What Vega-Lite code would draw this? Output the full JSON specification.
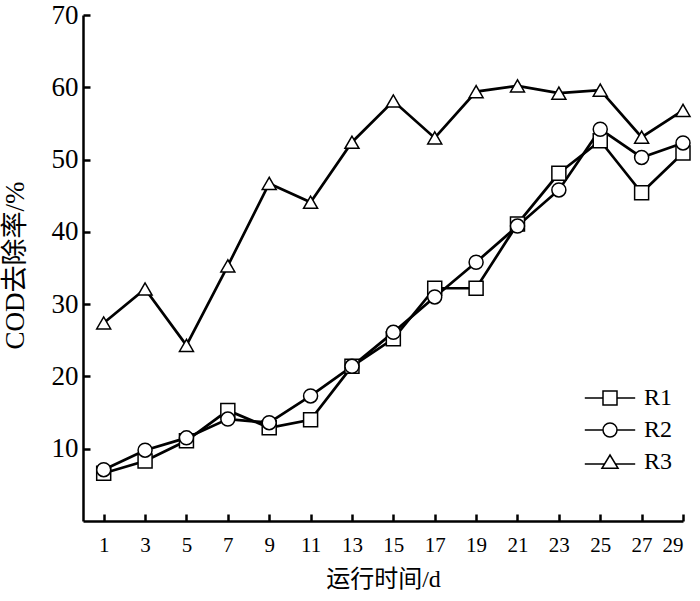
{
  "$schema": "https://vega.github.io/schema/vega-lite/v6.json",
  "width": 600,
  "height": 506,
  "autosize": "none",
  "padding": {"left": 83, "top": 15, "right": 17, "bottom": 80},
  "background": "white",
  "config": {
    "view": {"stroke": null},
    "font": "Liberation Serif",
    "axis": {
      "domainColor": "black", "domainWidth": 2.5, "tickColor": "black", "tickWidth": 2.5,
      "tickSize": -7, "grid": false, "labelColor": "black", "titleColor": "black",
      "labelFont": "Liberation Serif", "titleFont": "Liberation Serif, Noto Sans CJK SC", "titleFontWeight": "normal"
    }
  },
  "data": {"values": [
    {"day": 1, "series": "R1", "cod": 6.6}, {"day": 3, "series": "R1", "cod": 8.3}, {"day": 5, "series": "R1", "cod": 11.1},
    {"day": 7, "series": "R1", "cod": 15.3}, {"day": 9, "series": "R1", "cod": 12.9}, {"day": 11, "series": "R1", "cod": 14.0},
    {"day": 13, "series": "R1", "cod": 21.4}, {"day": 15, "series": "R1", "cod": 25.2}, {"day": 17, "series": "R1", "cod": 32.2},
    {"day": 19, "series": "R1", "cod": 32.2}, {"day": 21, "series": "R1", "cod": 41.1}, {"day": 23, "series": "R1", "cod": 48.1},
    {"day": 25, "series": "R1", "cod": 52.6}, {"day": 27, "series": "R1", "cod": 45.4}, {"day": 29, "series": "R1", "cod": 50.9},
    {"day": 1, "series": "R2", "cod": 7.1}, {"day": 3, "series": "R2", "cod": 9.8}, {"day": 5, "series": "R2", "cod": 11.5},
    {"day": 7, "series": "R2", "cod": 14.1}, {"day": 9, "series": "R2", "cod": 13.6}, {"day": 11, "series": "R2", "cod": 17.3},
    {"day": 13, "series": "R2", "cod": 21.4}, {"day": 15, "series": "R2", "cod": 26.1}, {"day": 17, "series": "R2", "cod": 31.0},
    {"day": 19, "series": "R2", "cod": 35.8}, {"day": 21, "series": "R2", "cod": 40.8}, {"day": 23, "series": "R2", "cod": 45.8},
    {"day": 25, "series": "R2", "cod": 54.2}, {"day": 27, "series": "R2", "cod": 50.3}, {"day": 29, "series": "R2", "cod": 52.3},
    {"day": 1, "series": "R3", "cod": 27.4}, {"day": 3, "series": "R3", "cod": 32.1}, {"day": 5, "series": "R3", "cod": 24.3},
    {"day": 7, "series": "R3", "cod": 35.3}, {"day": 9, "series": "R3", "cod": 46.7}, {"day": 11, "series": "R3", "cod": 44.1},
    {"day": 13, "series": "R3", "cod": 52.4}, {"day": 15, "series": "R3", "cod": 58.1}, {"day": 17, "series": "R3", "cod": 53.0},
    {"day": 19, "series": "R3", "cod": 59.4}, {"day": 21, "series": "R3", "cod": 60.2}, {"day": 23, "series": "R3", "cod": 59.2},
    {"day": 25, "series": "R3", "cod": 59.6}, {"day": 27, "series": "R3", "cod": 53.1}, {"day": 29, "series": "R3", "cod": 56.8}
  ]},
  "encoding": {
    "x": {"field": "day", "type": "quantitative",
      "scale": {"domain": [0, 29], "nice": false, "zero": false},
      "axis": {"values": [1,3,5,7,9,11,13,15,17,19,21,23,25,27,29], "title": "运行时间/d",
        "labelFontSize": 21, "labelPadding": 20, "titleFontSize": 24,
        "titleX": 300, "titleY": 46, "titleBaseline": "top", "titleAlign": "center"}},
    "y": {"field": "cod", "type": "quantitative",
      "scale": {"domain": [0, 70], "nice": false},
      "axis": {"values": [10,20,30,40,50,60,70], "title": "COD去除率/%",
        "labelFontSize": 27, "labelPadding": 12, "labelBaseline": "middle", "titleFontSize": 27,
        "titleX": -54, "titleY": 250, "titleAngle": -90, "titleAlign": "center", "titleBaseline": "bottom"}}
  },
  "layer": [
    {"mark": {"type": "line", "color": "black", "strokeWidth": 2.7},
     "encoding": {"detail": {"field": "series"}}},
    {"mark": {"type": "point", "filled": true, "fill": "white", "stroke": "black", "strokeWidth": 1.5, "size": 196, "opacity": 1},
     "encoding": {
       "shape": {"field": "series", "type": "nominal",
         "scale": {"domain": ["R1","R2","R3"], "range": ["square","circle","triangle-up"]},
         "legend": null}}},
    {"mark": {"type": "point", "filled": true, "fill": "white", "stroke": "black", "strokeWidth": 2, "size": 196, "opacity": 0},
     "encoding": {
       "shape": {"field": "series", "type": "nominal",
         "scale": {"domain": ["R1","R2","R3"], "range": [
           "M-3.6,0H-1M1,0H3.6M-1,-1H1V1H-1Z",
           "M-3.6,0H-1M1,0H3.6M-1,0A1,1 0 1,0 1,0A1,1 0 1,0 -1,0Z",
           "M-3.6,0.3H-0.85M0.85,0.3H3.6M0,-1L1.15,0.9H-1.15Z"]},
         "legend": {"title": null, "orient": "none", "legendX": 515, "legendY": 371, "padding": 0,
           "labelFontSize": 24, "labelColor": "black", "labelOffset": 22, "rowPadding": 8,
           "symbolSize": 196,
           "encode": {"symbols": {"update": {
             "fill": {"value": "white"},
             "stroke": {"value": "black"},
             "strokeWidth": {"value": 2.2},
             "opacity": {"value": 1},
             "fillOpacity": {"value": 1},
             "strokeOpacity": {"value": 1}}}}}}}}
  ],
  "resolve": {"scale": {"shape": "independent"}, "legend": {"shape": "independent"}}
}
